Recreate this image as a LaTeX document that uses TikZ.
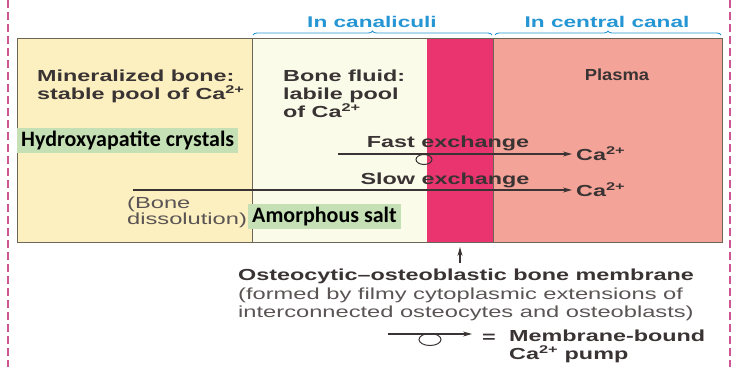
\documentclass[tikz,border=0pt]{standalone}
\usepackage{fontspec}
\usetikzlibrary{arrows.meta,positioning,shapes.geometric,decorations.pathreplacing}
\newfontfamily\figfont[FakeStretch=1.48,BoldFeatures={FakeStretch=1.46}]{Liberation Sans}
\newfontfamily\narrowfont[FakeStretch=1.15,BoldFeatures={FakeStretch=1.15}]{Liberation Sans}
\newfontfamily\tagfont{Carlito}
\definecolor{ink}{HTML}{3A3333}
\definecolor{inkl}{HTML}{5A5454}
\definecolor{rim}{HTML}{6B6657}
\definecolor{bonec}{HTML}{FCF0C0}
\definecolor{fluidc}{HTML}{FBFBEA}
\definecolor{memc}{HTML}{EA3470}
\definecolor{plasc}{HTML}{F3A397}
\definecolor{capc}{HTML}{2596D3}
\definecolor{tagc}{HTML}{C5E0B4}
\definecolor{margc}{HTML}{CF5592}
\newcommand{\caion}{Ca\textsuperscript{2+}}
\tikzset{
  zone/.style={anchor=north west,minimum height=204pt,inner sep=0pt,outer sep=0pt},
  lbl/.style={font=\figfont\bfseries\fontsize{16}{18}\selectfont,text=ink,align=left,inner sep=0pt},
  note/.style={lbl,font=\figfont\fontsize{16}{18.5}\selectfont,text=inkl},
  headlbl/.style={font=\figfont\bfseries\fontsize{15.5}{18}\selectfont,text=capc,inner sep=0pt},
  tag/.style={fill=tagc,font=\tagfont\bfseries\fontsize{22}{24}\selectfont,text=black,inner sep=3pt,inner xsep=4pt},
  flow/.style={-{Stealth[length=9pt,width=5pt]},line width=1.1pt,draw=ink},
  pump/.style={ellipse,draw=ink,line width=1pt,minimum width=16pt,minimum height=10pt,inner sep=0pt},
  cbrace/.style={decorate,decoration={brace,amplitude=4pt},draw=capc,line width=0.9pt},
  pagerule/.style={draw=margc,line width=2.4pt,dash pattern=on 8pt off 4pt},
}
\begin{document}
\begin{tikzpicture}[x=1pt,y=-1pt]
\useasboundingbox (0,0) rectangle (735,367);
% page margins
\draw[pagerule] (8,0) -- (8,367);
\draw[pagerule] (730,0) -- (730,367);

% the four zones
\node[zone,fill=bonec,minimum width=235pt] (bone) at (17,38) {};
\node[zone,fill=fluidc,minimum width=175pt] (fluid) at (bone.north east) {};
\node[zone,fill=memc,minimum width=66pt] (mem) at (fluid.north east) {};
\node[zone,fill=plasc,minimum width=229pt] (plasma) at (mem.north east) {};
\draw[rim,line width=0.8pt] (bone.north west) rectangle (plasma.south east);
\draw[rim,line width=0.8pt] (bone.north east) -- (bone.south east);
\draw[rim,line width=0.8pt] (mem.north east) -- (mem.south east);

% braces on top
\draw[cbrace] ([xshift=1pt,yshift=3pt]fluid.north west) -- ([xshift=-1pt,yshift=3pt]mem.north east);
\draw[cbrace] ([xshift=2pt,yshift=3pt]plasma.north west) -- ([xshift=-1pt,yshift=3pt]plasma.north east);
\node[headlbl] (canal) at (372,22) {In canaliculi};
\node[headlbl] (central) at (607,22) {In central canal};

% zone labels
\node[lbl,anchor=north west] (stable) at (37,70) {Mineralized bone:\\stable pool of \caion};
\node[lbl,anchor=north west] (labile) at (283,70) {Bone fluid:\\labile pool\\of \caion};
\node[lbl,font=\narrowfont\bfseries\fontsize{16}{18}\selectfont,anchor=north] (plasmaT) at (617,69) {Plasma};

% highlighted tags
\node[tag,anchor=north west] (hydro) at (17,128) {Hydroxyapatite crystals};
\node[tag,anchor=north west] (amorph) at (248,204) {Amorphous salt};

% exchanges
\coordinate (fastS) at (338,154);
\node[lbl,anchor=west] (caF) at (576,154) {\caion};
\draw[flow] (fastS) -- ([xshift=-4pt]caF.west);
\node[pump] (pumpF) at (424,159.5) {};
\node[lbl] (fastT) at (448,143) {Fast exchange};

\coordinate (slowS) at (133,190);
\node[lbl,anchor=west] (caS) at (576,190) {\caion};
\draw[flow] (slowS) -- ([xshift=-4pt]caS.west);
\node[lbl] (slowT) at (445,180) {Slow exchange};

\node[note,font=\figfont\fontsize{16}{15.5}\selectfont,anchor=north west] (dissol) at (127,197) {(Bone\\dissolution)};

% membrane caption
\node[lbl,anchor=north west] (osteo) at (238,269) {Osteocytic–osteoblastic bone membrane};
\node[note,below=3pt of osteo.south west,anchor=north west] (formed) {(formed by filmy cytoplasmic extensions of\\interconnected osteocytes and osteoblasts)};
\coordinate (memTail) at (mem.south |- osteo.north);
\draw[flow,shorten <=6pt,shorten >=5pt] (memTail) -- (mem.south);

% key
\coordinate (keyS) at (388,334);
\coordinate (keyE) at (472,334);
\draw[flow] (keyS) -- (keyE);
\node[pump,minimum width=22pt,minimum height=12pt] (keyP) at (430,339.5) {};
\node[lbl,anchor=base west] (eqT) at (482,342) {=};
\node[lbl,anchor=north west] (keyT) at (509,330) {Membrane-bound\\\caion{} pump};
\end{tikzpicture}
\end{document}
